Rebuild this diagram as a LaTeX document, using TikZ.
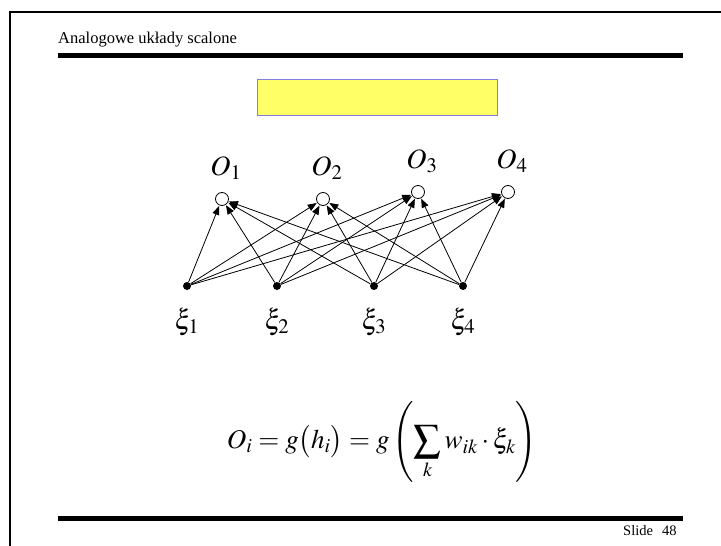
\documentclass[tikz,border=0pt]{standalone}
\usepackage{mathptmx}
\usepackage{fontspec}
\setmainfont{Liberation Serif}
\usetikzlibrary{arrows.meta,positioning}
\definecolor{boxyellow}{RGB}{255,255,102}
\definecolor{boxblue}{RGB}{128,128,224}
\tikzset{
  outn/.style={circle, draw, line width=0.8pt, fill=white, minimum size=13pt, inner sep=0pt},
  inn/.style={circle, fill=black, minimum size=8pt, inner sep=0pt},
  lbl/.style={font=\fontsize{28}{32}\selectfont, inner sep=0pt},
  arr/.style={-{Triangle[length=9pt,width=7pt]}, line width=0.8pt, shorten >=0.5pt},
  bar/.style={line width=5pt},
  small/.style={font=\fontsize{14.5}{17}\selectfont, inner sep=0pt}
}
\begin{document}
\begin{tikzpicture}[x=1pt, y=-1pt]
\useasboundingbox (0,0) rectangle (721,546);
% frame and rules
\draw[line width=2pt] (10,546) -- (10,12) -- (721,12);
\draw[bar] (58,55) -- (683,55);
\draw[bar] (58,518) -- (683,518);
\node[small, font=\fontsize{16.5}{19}\selectfont, anchor=base west] (title) at (58,43) {Analogowe układy scalone};
\node[small, anchor=base west] (slidenum) at (623,535) {Slide\hspace{9pt}48};
\node[draw=boxblue, fill=boxyellow, line width=0.8pt, minimum width=240pt, minimum height=36pt] (ybox) at (377,97) {};
% network
\node[outn] (o1) at (222,199) {};
\node[outn] (o2) at (323,199) {};
\node[outn] (o3) at (418,192) {};
\node[outn] (o4) at (508,192) {};
\node[inn] (x1) at (187,286) {};
\node[inn] (x2) at (277,286) {};
\node[inn] (x3) at (374,286) {};
\node[inn] (x4) at (463,286) {};
\node[lbl, above=12pt of o1, xshift=4pt] (lo1) {$O_1$};
\node[lbl, above=12pt of o2, xshift=4pt] (lo2) {$O_2$};
\node[lbl, above=12pt of o3, xshift=4pt] (lo3) {$O_3$};
\node[lbl, above=12pt of o4, xshift=4pt] (lo4) {$O_4$};
\node[lbl, below=18pt of x1] (lx1) {$\xi_1$};
\node[lbl, below=18pt of x2] (lx2) {$\xi_2$};
\node[lbl, below=18pt of x3] (lx3) {$\xi_3$};
\node[lbl, below=18pt of x4] (lx4) {$\xi_4$};
\draw[arr] (x1) -- (o1); \draw[arr] (x1) -- (o2); \draw[arr] (x1) -- (o3); \draw[arr] (x1) -- (o4);
\draw[arr] (x2) -- (o1); \draw[arr] (x2) -- (o2); \draw[arr] (x2) -- (o3); \draw[arr] (x2) -- (o4);
\draw[arr] (x3) -- (o1); \draw[arr] (x3) -- (o2); \draw[arr] (x3) -- (o3); \draw[arr] (x3) -- (o4);
\draw[arr] (x4) -- (o1); \draw[arr] (x4) -- (o2); \draw[arr] (x4) -- (o3); \draw[arr] (x4) -- (o4);
% formula
\node[font=\fontsize{27}{32}\selectfont, inner sep=0pt] (eq) at (382,442)
  {$\displaystyle O_i = g\bigl(h_i\bigr) = g\left(\sum_k w_{ik}\cdot\xi_k\right)$};
\end{tikzpicture}
\end{document}
